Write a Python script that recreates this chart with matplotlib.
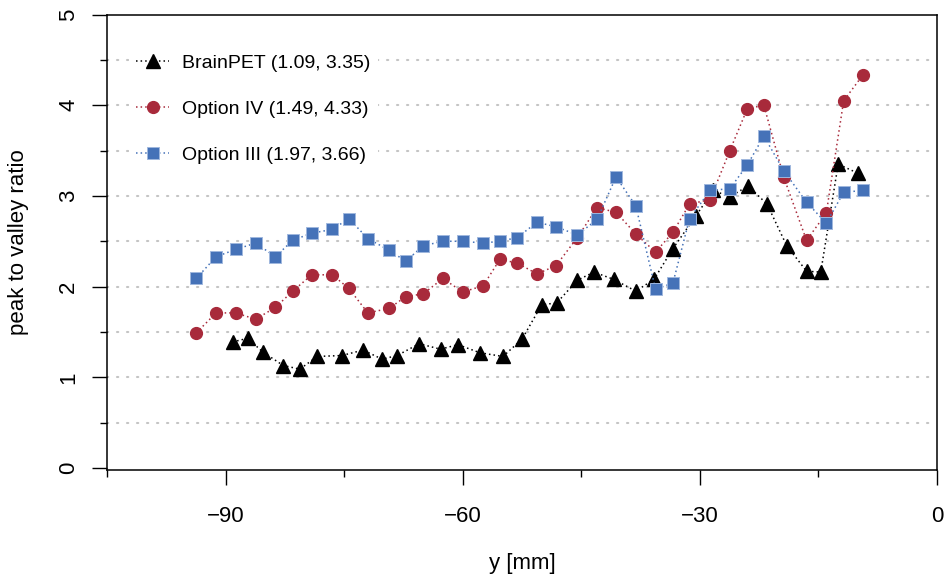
import matplotlib
matplotlib.use("Agg")
import matplotlib.pyplot as plt
from matplotlib.ticker import FixedLocator

plt.rcParams['font.family'] = ['Liberation Sans', 'DejaVu Sans']

# slice positions (mm)
x_opt = [-93.7, -91.2, -88.7, -86.2, -83.7, -81.5, -79.1, -76.5, -74.4, -72.0,
         -69.3, -67.2, -65.0, -62.5, -60.0, -57.4, -55.3, -53.1, -50.6, -48.2,
         -45.5, -43.0, -40.6, -38.1, -35.6, -33.4, -31.3, -28.7, -26.2, -24.0,
         -21.9, -19.4, -16.5, -14.0, -11.8, -9.4]
x_brain = [-89.1, -87.2, -85.3, -82.7, -80.6, -78.4, -75.3, -72.6, -70.2, -68.3,
           -65.5, -62.8, -60.6, -57.8, -54.9, -52.5, -50.0, -48.1, -45.5, -43.4,
           -40.9, -38.1, -35.8, -33.4, -30.5, -28.3, -26.2, -23.9, -21.5, -19.0,
           -16.5, -14.7, -12.5, -10.0]

brainpet = [1.39, 1.43, 1.28, 1.13, 1.09, 1.23, 1.24, 1.30, 1.20, 1.24,
            1.37, 1.31, 1.36, 1.27, 1.23, 1.42, 1.80, 1.82, 2.07, 2.16,
            2.08, 1.95, 2.08, 2.42, 2.78, 3.06, 2.99, 3.11, 2.91, 2.45,
            2.17, 2.16, 3.35, 3.25]
option_iv = [1.49, 1.71, 1.71, 1.64, 1.77, 1.95, 2.13, 2.13, 1.98, 1.71,
             1.76, 1.89, 1.92, 2.09, 1.94, 2.01, 2.30, 2.26, 2.14, 2.23,
             2.54, 2.87, 2.82, 2.58, 2.38, 2.60, 2.91, 2.96, 3.50, 3.96,
             4.00, 3.21, 2.51, 2.81, 4.05, 4.33]
option_iii = [2.09, 2.33, 2.41, 2.48, 2.33, 2.51, 2.59, 2.63, 2.75, 2.53,
              2.40, 2.28, 2.45, 2.50, 2.50, 2.48, 2.50, 2.54, 2.71, 2.66,
              2.57, 2.74, 3.21, 2.89, 1.97, 2.04, 2.75, 3.06, 3.08, 3.34,
              3.66, 3.28, 2.93, 2.70, 3.04, 3.06]

labels = ["BrainPET (1.09, 3.35)", "Option IV (1.49, 4.33)", "Option III (1.97, 3.66)"]
red = "#A82A3B"
blue = "#4572B8"

fig = plt.figure(figsize=(9.45, 5.74), dpi=100)
ax = fig.add_axes([0.1132, 0.1812, 0.8783, 0.7935])

# dotted horizontal grid every 0.5
for g in [0.5, 1, 1.5, 2, 2.5, 3, 3.5, 4, 4.5]:
    ax.axhline(g, color="#c4c4c4", lw=1.5, ls=(0, (0.6, 4.2)), zorder=0,
               dash_capstyle="round")

dot = (0, (1, 2.0))
ax.plot(x_brain, brainpet, color="black", ls=dot, lw=1.1, marker="^", ms=10,
        label=labels[0], zorder=3)
ax.plot(x_opt, option_iv, color=red, ls=dot, lw=1.1, marker="o", ms=8.5,
        label=labels[1], zorder=4)
ax.plot(x_opt, option_iii, color=blue, ls=dot, lw=1.1, marker="s", ms=8,
        mec="#9fb7de", mew=0.7, label=labels[2], zorder=5)

ax.set_xlim(-105, 0)
ax.set_ylim(-0.022, 5)

ax.xaxis.set_major_locator(FixedLocator([-90, -60, -30, 0]))
ax.xaxis.set_minor_locator(FixedLocator([-105, -75, -45, -15]))
ax.yaxis.set_major_locator(FixedLocator([0, 1, 2, 3, 4, 5]))
ax.yaxis.set_minor_locator(FixedLocator([0.5, 1.5, 2.5, 3.5, 4.5]))
ax.set_xticklabels(["\u221290", "\u221260", "\u221230", "0"])

ax.tick_params(which="major", length=11, width=1, labelsize=16, direction="out")
ax.tick_params(which="minor", length=5, width=1, direction="out")
ax.tick_params(axis="x", pad=15)
ax.tick_params(axis="y", pad=9)
for t in ax.get_yticklabels():
    t.set_rotation(90)
    t.set_va("center")

for s in ax.spines.values():
    s.set_linewidth(1.1)

ax.set_xlabel("y [mm]", fontsize=16)
ax.set_ylabel("peak to valley ratio", fontsize=16)
ax.xaxis.set_label_coords(0.5, -0.183)
ax.yaxis.set_label_coords(-0.094, 0.5)

leg = ax.legend(loc="upper left", bbox_to_anchor=(0.026, 0.93), fontsize=14,
                frameon=True, facecolor="white", edgecolor="none", framealpha=1,
                fancybox=False, borderaxespad=0, borderpad=0.4,
                handlelength=1.7, handletextpad=0.65, labelspacing=1.47)
leg.set_zorder(6)

fig.savefig("out.png", dpi=100)
